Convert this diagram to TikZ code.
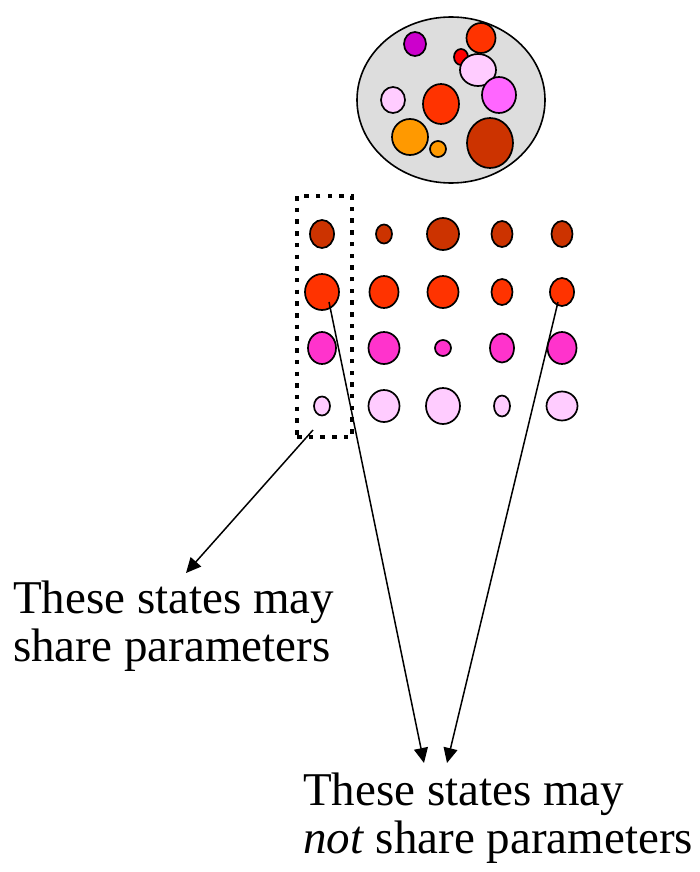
\documentclass[tikz,border=0pt]{standalone}
\usepackage{fontspec}
\setmainfont{Liberation Serif}
\usetikzlibrary{shapes.geometric,arrows.meta}

\definecolor{cRust}{HTML}{CC3300}
\definecolor{cScarlet}{HTML}{FF3300}
\definecolor{cHotPink}{HTML}{FF33CC}
\definecolor{cBlush}{HTML}{FFCCFF}
\definecolor{cPurple}{HTML}{CC00CC}
\definecolor{cRed}{HTML}{FF0000}
\definecolor{cOrchid}{HTML}{FF66FF}
\definecolor{cOrange}{HTML}{FF9900}
\definecolor{cPool}{HTML}{DDDDDD}

% one state: name, x, y, half-width, half-height, fill colour
\newcommand\statedot[6]{%
  \node[st, fill=#6, minimum width=2*#4, minimum height=2*#5] (#1) at (#2,#3) {};}

\begin{document}
\begin{tikzpicture}[x=1pt, y=-1pt,
  st/.style={ellipse, draw=black, line width=1.7pt, inner sep=0pt, outer sep=0pt},
  pool/.style={ellipse, draw=black, line width=1.6pt, fill=cPool, inner sep=0pt},
  group/.style={draw=black, line width=4.5pt, dash pattern=on 4.5pt off 7.2pt, inner sep=0pt},
  pointer/.style={line width=1.5pt, -{Triangle[length=15pt, width=14pt]}},
  label/.style={align=left, inner sep=0pt, anchor=base west,
                font=\fontsize{47}{48}\selectfont}]
\useasboundingbox (0,0) rectangle (700,872);

% pool of all states
\node[pool, minimum width=188, minimum height=166] (poolset) at (451,100) {};
\statedot{p1}{415}{44}{11}{12}{cPurple}
\statedot{p2}{481}{38}{14.5}{15}{cScarlet}
\statedot{p3}{461}{57}{7}{8}{cRed}
\statedot{p4}{478}{70}{18}{16}{cBlush}
\statedot{p5}{499}{95}{17}{18}{cOrchid}
\statedot{p6}{393}{100}{12}{13}{cBlush}
\statedot{p7}{441}{104}{18}{20}{cScarlet}
\statedot{p8}{410}{137}{18}{18}{cOrange}
\statedot{p9}{438}{149}{8}{8}{cOrange}
\statedot{p10}{490}{143}{23}{25}{cRust}

% grid of states
\statedot{a1}{322}{234}{12}{14}{cRust}
\statedot{a2}{384}{234}{8}{9.5}{cRust}
\statedot{a3}{443}{234}{16}{16}{cRust}
\statedot{a4}{502}{234}{10.5}{13}{cRust}
\statedot{a5}{562}{234}{10.5}{13}{cRust}

\statedot{b1}{322}{292}{17}{18}{cScarlet}
\statedot{b2}{384}{292}{14.5}{16}{cScarlet}
\statedot{b3}{443}{292}{15.5}{16}{cScarlet}
\statedot{b4}{502}{292}{10.5}{13}{cScarlet}
\statedot{b5}{562}{292}{12}{14}{cScarlet}

\statedot{c1}{322}{348}{14}{16}{cHotPink}
\statedot{c2}{384}{348}{15.5}{16}{cHotPink}
\statedot{c3}{443}{348}{8}{8}{cHotPink}
\statedot{c4}{502}{348}{12}{14.5}{cHotPink}
\statedot{c5}{562}{348}{14.5}{16}{cHotPink}

\statedot{d1}{322}{406}{8}{9.5}{cBlush}
\statedot{d2}{384}{406}{15.5}{16}{cBlush}
\statedot{d3}{443}{406}{17}{18}{cBlush}
\statedot{d4}{502}{406}{8}{10.5}{cBlush}
\statedot{d5}{562}{406}{15.5}{14.5}{cBlush}

% dotted frame around the first column
\node[group, minimum width=55, minimum height=241] (col) at (324.5,316.5) {};

% captions (anchored on the baseline of their last line)
\node[label] (shared) at (13,661) {These states may\\share parameters};
\node[label] (unshared) at (303,853) {These states may\\\textit{not} share parameters};

% pointer ends
\coordinate (s1) at (313,430);
\coordinate (s2) at (329,302);
\coordinate (s3) at (558,302);
\coordinate (e1) at (186,573);
\coordinate (e2) at (424,763);
\coordinate (e3) at (447,763);

\draw[pointer] (s1) -- (e1);
\draw[pointer] (s2) -- (e2);
\draw[pointer] (s3) -- (e3);
\end{tikzpicture}
\end{document}
